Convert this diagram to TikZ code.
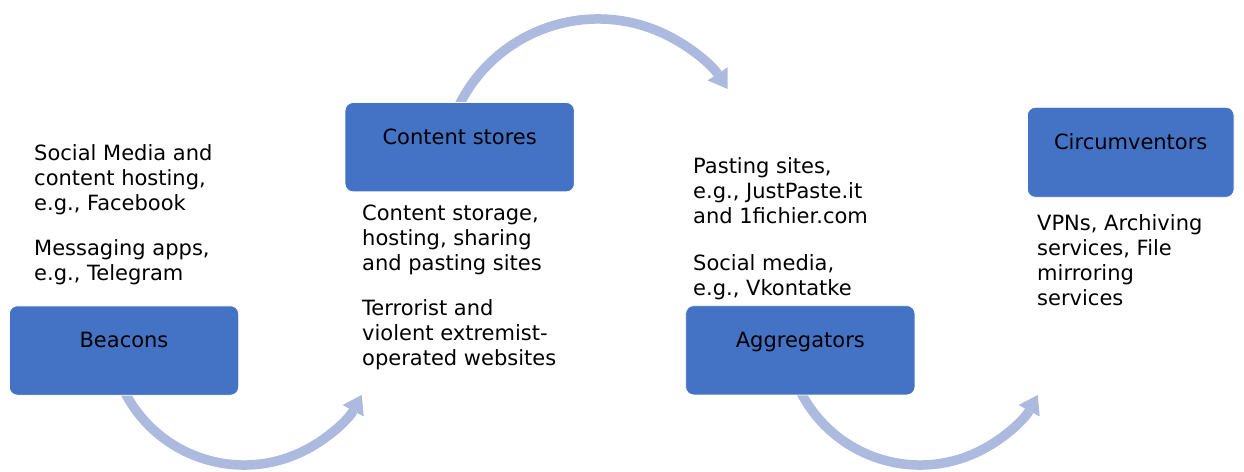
\documentclass[tikz,border=0pt]{standalone}
\usepackage{fontspec}
\setmainfont{DejaVu Sans}
\usetikzlibrary{arrows.meta,calc}
\definecolor{boxblue}{RGB}{68,114,196}
\definecolor{flowblue}{RGB}{171,186,222}
\begin{document}
\begin{tikzpicture}[x=1pt,y=-1pt,
  stagebox/.style={draw=white, line width=0.8pt, fill=boxblue, rounded corners=8pt,
    inner sep=0pt, minimum width=229.3pt, minimum height=89.3pt},
  stagetitle/.style={anchor=base, inner sep=0pt, font=\fontsize{21}{25}\selectfont},
  notes/.style={anchor=base west, inner sep=0pt, align=left, font=\fontsize{21}{25}\selectfont},
  flow/.style={draw=flowblue, line width=9.5pt,
    -{Triangle[width=24pt,length=18pt,line width=0pt]}}]

% canvas
\fill[white] (0,0) rectangle (1244,471);
\useasboundingbox (0,0) rectangle (1244,471);

% centres of the curved flow arrows
\coordinate (c1) at (244,331);
\coordinate (c2) at (598,174);
\coordinate (c3) at (920,331);

% curved flow arrows (drawn first so the boxes cover their tails)
\draw[flow] ($(c1)+(154:134)$) arc[start angle=154, end angle=28.5, radius=134];
\draw[flow] ($(c2)+(-155:155)$) arc[start angle=-155, end angle=-33.3, radius=155];
\draw[flow] ($(c3)+(154:134)$) arc[start angle=154, end angle=28.5, radius=134];

% stage boxes
\node[stagebox] (beacons) at (124,350.5) {};
\node[stagebox] (stores) at (459.7,147.2) {};
\node[stagebox] (aggr) at (800.3,350.3) {};
\node[stagebox, minimum width=206.7pt, minimum height=90pt] (circ) at (1130.7,152.3) {};

% stage titles
\node[stagetitle] (tbeacons) at ($(beacons.north)+(0,42.5)$) {Beacons};
\node[stagetitle] (tstores) at ($(stores.north)+(0,42.5)$) {Content stores};
\node[stagetitle] (taggr) at ($(aggr.north)+(0,42.5)$) {Aggregators};
\node[stagetitle] (tcirc) at ($(circ.north)+(0,42.5)$) {Circumventors};

% descriptions
\node[notes] (nbeacons) at (34,280) {Social Media and\\content hosting,\\e.g., Facebook\\[20pt]Messaging apps,\\e.g., Telegram};
\node[notes] (nstores) at (362,365) {Content storage,\\hosting, sharing\\and pasting sites\\[20pt]Terrorist and\\violent extremist-\\operated websites};
\node[notes] (naggr) at (693,295) {Pasting sites,\\e.g., JustPaste.it\\and 1fichier.com\\[22pt]Social media,\\e.g., Vkontatke};
\node[notes] (ncirc) at (1037,305) {VPNs, Archiving\\services, File\\mirroring\\services};
\end{tikzpicture}
\end{document}
